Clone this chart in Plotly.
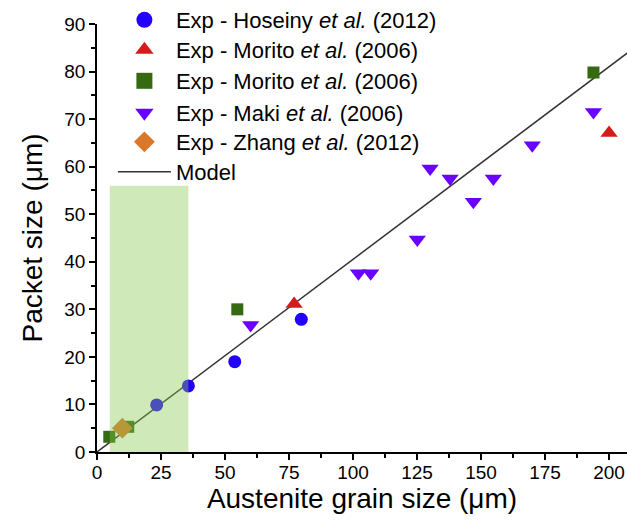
import plotly.graph_objects as go

# Data
hoseiny_x = [23.3, 35.7, 53.8, 79.8]
hoseiny_y = [9.9, 13.9, 19.0, 27.9]
morito_tri_x = [77.0, 200.0]
morito_tri_y = [31.1, 67.1]
morito_sq_x = [4.8, 12.2, 54.8, 193.9]
morito_sq_y = [3.2, 5.3, 30.0, 79.8]
maki_x = [60.0, 102.1, 106.9, 125.1, 130.1, 137.9, 147.0, 154.8, 170.0, 193.9]
maki_y = [26.7, 37.6, 37.6, 44.7, 59.6, 57.5, 52.6, 57.5, 64.5, 71.5]
zhang_x = [9.9]
zhang_y = [5.0]
model_x = [0, 215]
model_y = [0, 87.1]
box_x = [5.0, 35.7]
box_y = [0, 56]

x_ticks = [0, 25, 50, 75, 100, 125, 150, 175, 200]
y_ticks = [0, 10, 20, 30, 40, 50, 60, 70, 80, 90]

FONT = "Arial, Liberation Sans, sans-serif"
W, H = 627, 522
ML, MR, MT, MB = 97, 0, 24, 70
PH = H - MT - MB

fig = go.Figure()

series = [
    ("Exp - Hoseiny <i>et al.</i> (2012)", hoseiny_x, hoseiny_y, "circle", "#2200ff", 13, 23),
    ("Exp - Morito <i>et al.</i> (2006)", morito_tri_x, morito_tri_y, "triangle-up", "#d41c1c", 15, 27),
    ("Exp - Morito <i>et al.</i> (2006)", morito_sq_x, morito_sq_y, "square", "#356a12", 12, 20),
    ("Exp - Maki <i>et al.</i> (2006)", maki_x, maki_y, "triangle-down", "#6a00ff", 15, 27),
    ("Exp - Zhang <i>et al.</i> (2012)", zhang_x, zhang_y, "diamond", "#d9772a", 16, 28),
]
# legend row centres, in pixels from the top of the figure
legend_rows = [20, 50, 81, 113, 142, 172]

fig.add_trace(go.Scatter(x=model_x, y=model_y, mode="lines",
                         line=dict(color="#333333", width=1.5),
                         showlegend=False, hoverinfo="skip"))

for name, xs, ys, sym, col, sz, lsz in series:
    fig.add_trace(go.Scatter(x=xs, y=ys, mode="markers", name=name,
                             marker=dict(symbol=sym, color=col, size=sz, line=dict(width=0)),
                             showlegend=False))

legend_layouts = {}
for i, (name, xs, ys, sym, col, sz, lsz) in enumerate(series):
    key = "legend" if i == 0 else f"legend{i+1}"
    fig.add_trace(go.Scatter(x=[None], y=[None], mode="markers", name=name, legend=key,
                             marker=dict(symbol=sym, color=col, size=lsz, line=dict(width=0))))
    legend_layouts[key] = legend_rows[i]

fig.add_trace(go.Scatter(x=[None], y=[None], mode="lines", name="Model", legend="legend6",
                         line=dict(color="#333333", width=1.5)))
legend_layouts["legend6"] = legend_rows[5]

for key, py in legend_layouts.items():
    legend_layouts[key] = dict(x=0.03, y=(H - MB - py) / PH, xanchor="left", yanchor="middle",
                               font=dict(size=22, family=FONT, color="black"),
                               bgcolor="rgba(0,0,0,0)", itemwidth=53)

fig.add_shape(type="rect", xref="x", yref="y",
              x0=box_x[0], x1=box_x[1], y0=box_y[0], y1=box_y[1],
              fillcolor="rgba(135,200,80,0.4)", line=dict(width=0), layer="above")

fig.update_layout(
    width=W, height=H,
    margin=dict(l=ML, r=MR, t=MT, b=MB, autoexpand=False),
    paper_bgcolor="white", plot_bgcolor="white",
    font=dict(family=FONT, color="black", size=19),
    xaxis=dict(range=[0, 207], tickmode="array", tickvals=x_ticks, automargin=False,
               showline=True, linecolor="black", linewidth=1.5,
               ticks="outside", ticklen=6, tickwidth=1.5, tickcolor="black",
               ticklabelstandoff=-4,
               minor=dict(dtick=12.5, ticks="outside", ticklen=4, tickwidth=1.5, tickcolor="black"),
               showgrid=False, zeroline=False,
               tickfont=dict(size=19),
               title=dict(text="Austenite grain size (μm)", font=dict(size=28), standoff=3)),
    yaxis=dict(range=[0, 90], tickmode="array", tickvals=y_ticks, automargin=False,
               showline=True, linecolor="black", linewidth=1.5,
               ticks="outside", ticklen=6, tickwidth=1.5, tickcolor="black",
               minor=dict(dtick=5, ticks="outside", ticklen=4, tickwidth=1.5, tickcolor="black"),
               showgrid=False, zeroline=False,
               tickfont=dict(size=19),
               title=dict(text="Packet size (μm)", font=dict(size=28), standoff=14)),
)
fig.update_layout(**legend_layouts)

fig.write_html("out.html", config={"displayModeBar": False},
               post_script="document.body.style.margin='0';document.body.style.overflow='hidden';")
